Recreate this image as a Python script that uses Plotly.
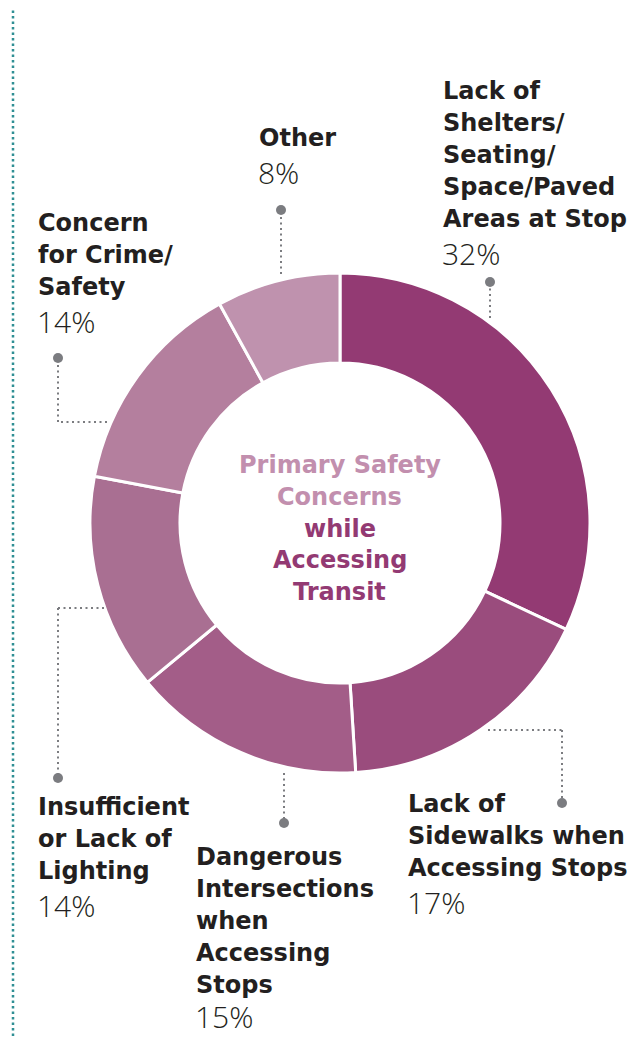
import plotly.graph_objects as go

categories = [
    "Lack of Shelters/ Seating/ Space/Paved Areas at Stop",
    "Lack of Sidewalks when Accessing Stops",
    "Dangerous Intersections when Accessing Stops",
    "Insufficient or Lack of Lighting",
    "Concern for Crime/ Safety",
    "Other",
]
values = [32, 17, 15, 14, 14, 8]
label_lines = [
    ["Lack of", "Shelters/", "Seating/", "Space/Paved", "Areas at Stop"],
    ["Lack of", "Sidewalks when", "Accessing Stops"],
    ["Dangerous", "Intersections", "when", "Accessing", "Stops"],
    ["Insufficient", "or Lack of", "Lighting"],
    ["Concern", "for Crime/", "Safety"],
    ["Other"],
]
colors = ["#933a73", "#9a4c7d", "#a35d88", "#a96f92", "#b47f9e", "#bf92ae"]

# page body has an 8px margin, so the figure sits at (8, 8) in the window
OFF = 8
W, H = 635 - OFF, 1037 - OFF


def px(x):
    return (x - OFF) / W


def py(y):
    return 1 - (y - OFF) / H


fig = go.Figure()
fig.add_trace(go.Pie(
    labels=categories,
    values=values,
    sort=False,
    direction="clockwise",
    hole=0.64,
    marker=dict(colors=colors, line=dict(color="white", width=3)),
    textinfo="none",
    hoverinfo="label+percent",
    showlegend=False,
    domain=dict(x=[px(90), px(590)], y=[py(773), py(273)]),
))

# label blocks: (left x, top y of bold text)
label_pos = [(443, 75), (408, 788), (196, 841), (38, 791), (38, 207), (259, 122)]
bold_font = dict(family="DejaVu Sans, Arial", size=24, color="#231f20", weight=700)
pct_font = dict(family="Open Sans, Arial", size=30, color="#231f20", weight=300)
line_h = 32

annotations = []
for lines, v, (x, y) in zip(label_lines, values, label_pos):
    for i, t in enumerate(lines):
        annotations.append(dict(
            x=px(x - 2), y=py(y + i * line_h + line_h / 2), xref="paper", yref="paper",
            xanchor="left", yanchor="middle", align="left", showarrow=False,
            text=f"<b>{t}</b>", font=bold_font,
        ))
    pct_y = min(y + line_h * len(lines) + 18, 1037 - 21)
    annotations.append(dict(
        x=px(x - 3), y=py(pct_y), xref="paper", yref="paper",
        xanchor="left", yanchor="middle", align="left", showarrow=False,
        text=f"{v}%", font=pct_font,
    ))

center_lines = [
    ("Primary Safety", "#c28fae"),
    ("Concerns", "#c28fae"),
    ("while", "#933a73"),
    ("Accessing", "#933a73"),
    ("Transit", "#933a73"),
]
for i, (t, c) in enumerate(center_lines):
    annotations.append(dict(
        x=px(340), y=py(465 + i * 31.8), xref="paper", yref="paper",
        xanchor="center", yanchor="middle", align="center", showarrow=False,
        text=f"<b>{t}</b>",
        font=dict(family="DejaVu Sans, Arial", size=24, color=c, weight=700),
    ))

# leader lines (pixel paths) with dot at label end
leaders = [
    [(490, 318), (490, 282)],
    [(488, 730), (562, 730), (562, 803)],
    [(284, 773), (284, 823)],
    [(104, 608), (58, 608), (58, 778)],
    [(107, 422), (58, 422), (58, 358)],
    [(281, 274), (281, 210)],
]
shapes = []
grey = "#7b7c80"
for pts in leaders:
    for (x0, y0), (x1, y1) in zip(pts[:-1], pts[1:]):
        shapes.append(dict(
            type="line", xref="paper", yref="paper",
            x0=px(x0), y0=py(y0), x1=px(x1), y1=py(y1),
            line=dict(color=grey, width=2, dash="2px,3.5px"),
        ))
    ex, ey = pts[-1]
    shapes.append(dict(
        type="circle", xref="paper", yref="paper",
        x0=px(ex - 5), y0=py(ey + 5), x1=px(ex + 5), y1=py(ey - 5),
        fillcolor=grey, line=dict(width=0),
    ))

# teal dotted rule on left
shapes.append(dict(
    type="line", xref="paper", yref="paper",
    x0=px(13), y0=py(5), x1=px(13), y1=0,
    line=dict(color="#2f8f94", width=2.5, dash="2.5px,3px"),
))

fig.update_layout(
    width=W, height=H,
    margin=dict(l=0, r=0, t=0, b=0),
    paper_bgcolor="white",
    plot_bgcolor="white",
    annotations=annotations,
    shapes=shapes,
)

fig.write_html("out.html")
